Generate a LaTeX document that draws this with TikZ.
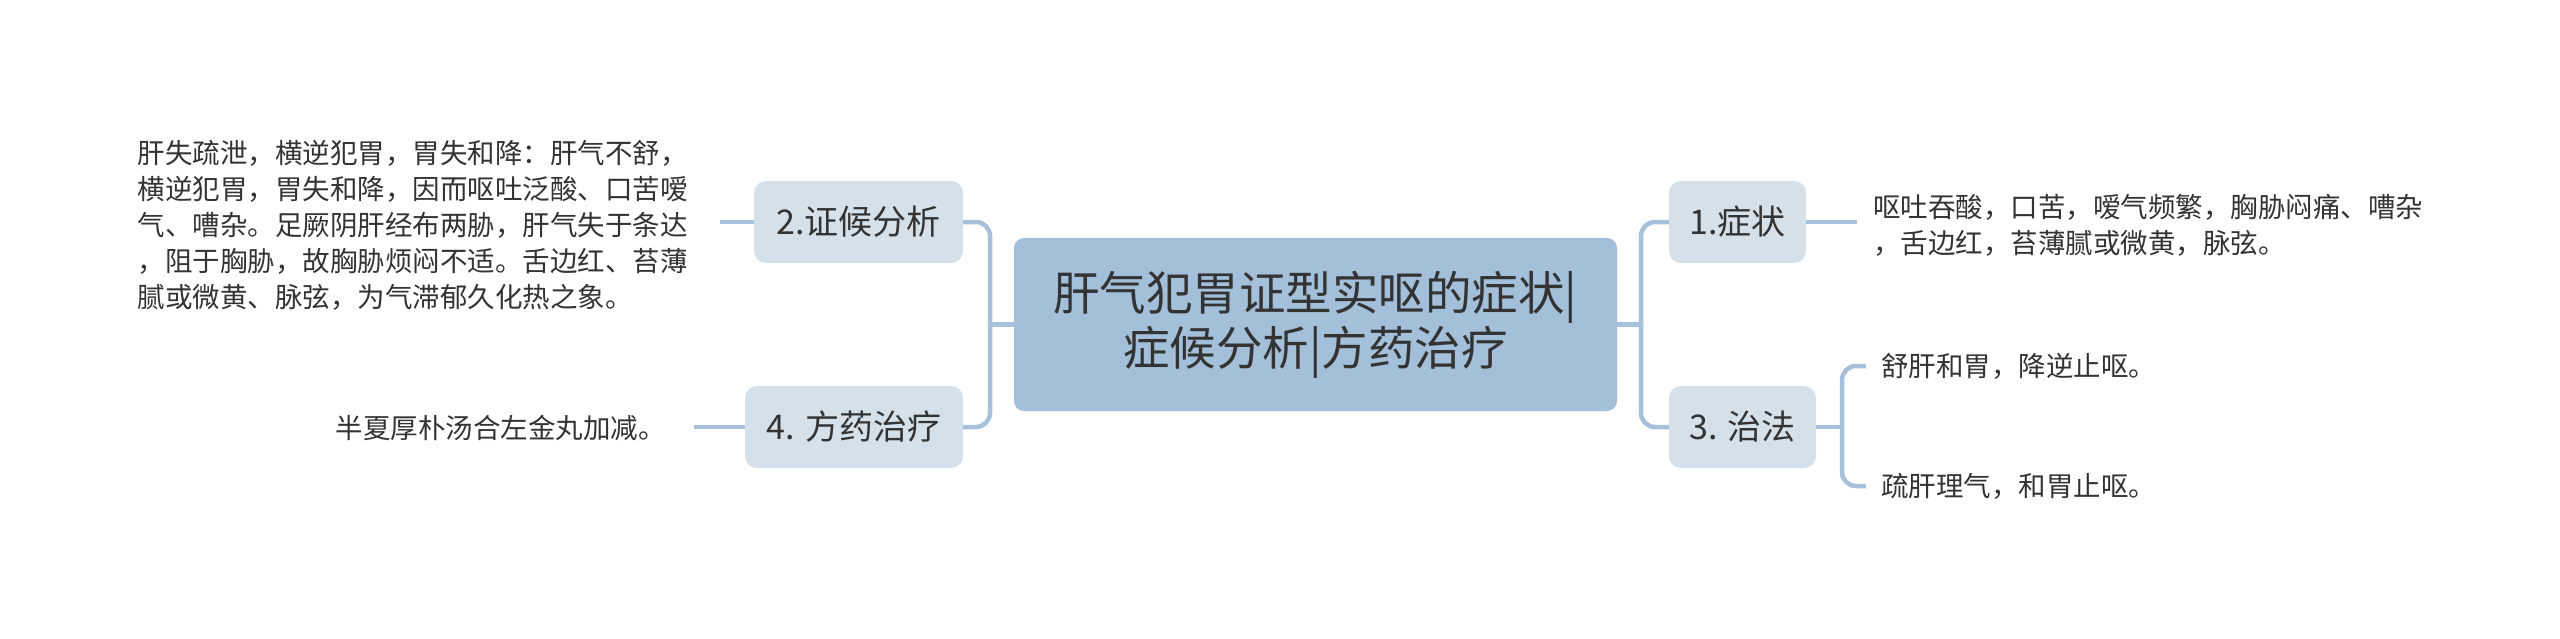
\documentclass[tikz,border=0pt]{standalone}
\usepackage{fontspec}
\setmainfont{Noto Sans CJK SC}
\usetikzlibrary{positioning}
\definecolor{rootfill}{HTML}{A3BFD9}
\definecolor{subfill}{HTML}{D4E1EA}
\definecolor{linkcol}{HTML}{A7C1DA}
\definecolor{txtcol}{HTML}{333333}
\tikzset{
  rootbox/.style={fill=rootfill, rounded corners=10pt, minimum width=603pt, minimum height=173pt,
    align=center, text=txtcol, font=\fontsize{46.5}{55}\selectfont},
  subbox/.style={fill=subfill, rounded corners=12pt, minimum height=82pt, inner xsep=16pt,
    text=txtcol, font=\fontsize{34}{40}\selectfont},
  leaf/.style={align=left, text=txtcol, font=\fontsize{27.5}{36}\selectfont},
  link/.style={draw=linkcol, line width=4.5pt, rounded corners=14pt},
}
\begin{document}
\begin{tikzpicture}[x=1pt,y=-1pt]
\useasboundingbox[fill=white] (0,0) rectangle (2560,638);
% main topic and branches
\node[rootbox] (root) at (1315.5,324.5) {肝气犯胃证型实呕的症状|\\症候分析|方药治疗};
\node[subbox, minimum width=209pt] (zhenghou) at (858.5,222) {2.证候分析};
\node[subbox, minimum width=218pt] (fangyao) at (854,427) {4. 方药治疗};
\node[subbox, minimum width=137pt] (zhengzhuang) at (1737.5,222) {1.症状};
\node[subbox, minimum width=147pt] (zhifa) at (1742.5,427) {3. 治法};
% leaves
\node[leaf, anchor=east, inner xsep=32pt] (fenxi) at (720,225) {肝失疏泄，横逆犯胃，胃失和降：肝气不舒，\\横逆犯胃，胃失和降，因而呕吐泛酸、口苦嗳\\气、嘈杂。足厥阴肝经布两胁，肝气失于条达\\，阻于胸胁，故胸胁烦闷不适。舌边红、苔薄\\腻或微黄、脉弦，为气滞郁久化热之象。};
\node[leaf, anchor=east, inner xsep=28pt] (fangji) at (694,428) {半夏厚朴汤合左金丸加减。};
\node[leaf, anchor=west, inner xsep=16pt] (zzlist) at (1857,225) {呕吐吞酸，口苦，嗳气频繁，胸胁闷痛、嘈杂\\，舌边红，苔薄腻或微黄，脉弦。};
\node[leaf, anchor=west, inner xsep=15pt] (shugan) at (1866,366) {舒肝和胃，降逆止呕。};
\node[leaf, anchor=west, inner xsep=15pt] (ligan) at (1866,486) {疏肝理气，和胃止呕。};
% connectors
\coordinate (lfork) at (990,324.5);
\coordinate (rfork) at (1641,324.5);
\coordinate (zfork) at (1842,427);
\draw[link] (root.west) -- (lfork);
\draw[link] (lfork) |- (zhenghou.east);
\draw[link] (lfork) |- (fangyao.east);
\draw[link] (root.east) -- (rfork);
\draw[link] (rfork) |- (zhengzhuang.west);
\draw[link] (rfork) |- (zhifa.west);
\draw[link] (zhenghou.west) -- (zhenghou.west -| fenxi.east);
\draw[link] (fangyao.west) -- (fangyao.west -| fangji.east);
\draw[link] (zhengzhuang.east) -- (zhengzhuang.east -| zzlist.west);
\draw[link] (zhifa.east) -- (zfork);
\draw[link] (zfork) |- (shugan.west);
\draw[link] (zfork) |- (ligan.west);
\end{tikzpicture}
\end{document}
